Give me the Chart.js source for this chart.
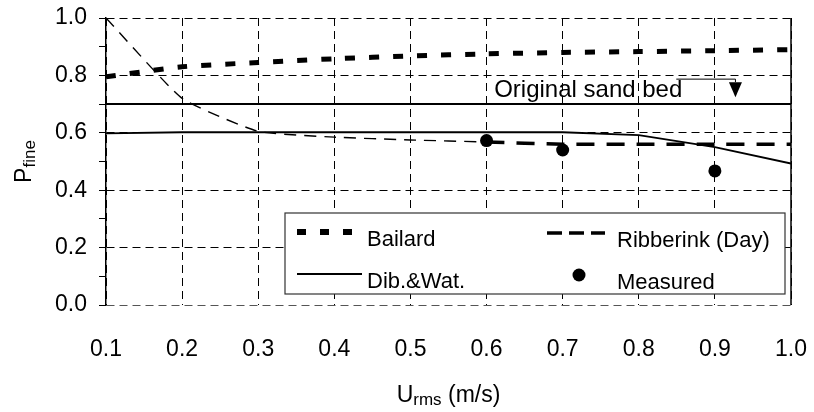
<!DOCTYPE html>
<html>
<head>
<meta charset="utf-8">
<script src="https://cdn.jsdelivr.net/npm/chart.js@4.4.0/dist/chart.umd.min.js"></script>
<style>
  html, body { margin: 0; padding: 0; background: #fff; }
  #wrap { width: 814px; height: 412px; }
</style>
</head>
<body>
<div id="wrap"><canvas id="pfine-chart" width="814" height="412"></canvas></div>
<script>
// values
const uRms = [0.1, 0.2, 0.3, 0.4, 0.5, 0.6, 0.7, 0.8, 0.9, 1.0];
const bailard = [0.795, 0.83, 0.845, 0.858, 0.868, 0.875, 0.88, 0.883, 0.886, 0.89];
const ribberink = [1.0, 0.72, 0.605, 0.585, 0.575, 0.568, 0.56, 0.56, 0.56, 0.56];
const dibWat = [0.598, 0.602, 0.602, 0.602, 0.602, 0.602, 0.602, 0.592, 0.55, 0.493];
const measuredU = [0.6, 0.7, 0.9];
const measuredP = [0.573, 0.54, 0.467];
const sandBedU = [0.1, 1.0];
const sandBedP = [0.7, 0.7];

const xTickValues = [0.1, 0.2, 0.3, 0.4, 0.5, 0.6, 0.7, 0.8, 0.9, 1.0];
const yTickValues = [0.0, 0.1, 0.2, 0.3, 0.4, 0.5, 0.6, 0.7, 0.8, 0.9, 1.0];
const yLabelled = [0.0, 0.2, 0.4, 0.6, 0.8, 1.0];

const FONT = '"Liberation Sans", Arial, sans-serif';

function toPoints(xs, ys) {
    return xs.map((x, i) => ({ x: x, y: ys[i] }));
}

const overlayPlugin = {
    id: 'overlay',
    afterDraw(chart) {
        const { ctx, chartArea: a, scales } = chart;
        const xs = scales.x, ys = scales.y;
        ctx.save();
        ctx.setLineDash([]);

        // right frame line
        ctx.strokeStyle = '#000';
        ctx.lineWidth = 1.5;
        ctx.beginPath();
        ctx.moveTo(a.right, a.top);
        ctx.lineTo(a.right, a.bottom);
        ctx.stroke();

        // "Original sand bed" label with arrow
        ctx.fillStyle = '#000';
        ctx.font = '24px ' + FONT;
        ctx.textBaseline = 'alphabetic';
        ctx.textAlign = 'left';
        const tx = xs.getPixelForValue(0.61);
        ctx.fillText('Original sand bed', tx, ys.getPixelForValue(0.725));
        const lineStart = tx + ctx.measureText('Original sand bed').width - 6;
        const ax = xs.getPixelForValue(0.927);
        const ly = ys.getPixelForValue(0.787);
        ctx.lineWidth = 1;
        ctx.beginPath();
        ctx.moveTo(lineStart, ly);
        ctx.lineTo(ax, ly);
        ctx.lineTo(ax, ly + 3);
        ctx.stroke();
        ctx.beginPath();
        ctx.moveTo(ax - 6.5, ly + 3);
        ctx.lineTo(ax + 6.5, ly + 3);
        ctx.lineTo(ax, ly + 18);
        ctx.closePath();
        ctx.fill();

        // legend box
        const lx = a.left + 179, lr = a.right - 6;
        const ly0 = a.top + 195, lb = a.bottom - 11;
        ctx.fillStyle = '#fff';
        ctx.fillRect(lx, ly0, lr - lx, lb - ly0);
        ctx.strokeStyle = '#333';
        ctx.lineWidth = 1.2;
        ctx.strokeRect(lx, ly0, lr - lx, lb - ly0);

        const entries = [
            { text: 'Bailard', x: lx + 12, y: ly0 + 19, len: 56, dash: [9, 14], width: 6 },
            { text: 'Ribberink (Day)', x: lx + 262, y: ly0 + 20, len: 58, dash: [15, 7], width: 3.5 },
            { text: 'Dib.&Wat.', x: lx + 12, y: ly0 + 61, len: 65, dash: [], width: 2 },
            { text: 'Measured', x: lx + 262, y: ly0 + 62, dot: true }
        ];
        ctx.font = '22px ' + FONT;
        entries.forEach(e => {
            ctx.strokeStyle = '#000';
            ctx.fillStyle = '#000';
            if (e.dot) {
                ctx.beginPath();
                ctx.arc(e.x + 32, e.y, 6.5, 0, Math.PI * 2);
                ctx.fill();
            } else {
                ctx.setLineDash(e.dash);
                ctx.lineWidth = e.width;
                ctx.beginPath();
                ctx.moveTo(e.x, e.y);
                ctx.lineTo(e.x + e.len, e.y);
                ctx.stroke();
                ctx.setLineDash([]);
            }
            ctx.fillText(e.text, e.x + 70, e.y + 14);
        });

        // x axis title: U_rms (m/s)
        ctx.fillStyle = '#000';
        const big = '23px ' + FONT, small = '17px ' + FONT;
        ctx.font = big;
        const wU = ctx.measureText('U').width;
        const wTail = ctx.measureText(' (m/s)').width;
        ctx.font = small;
        const wSub = ctx.measureText('rms').width;
        const x0 = (a.left + a.right) / 2 - (wU + wSub + wTail) / 2;
        const bY = 402;
        ctx.font = big;
        ctx.fillText('U', x0, bY);
        ctx.font = small;
        ctx.fillText('rms', x0 + wU, bY + 3);
        ctx.font = big;
        ctx.fillText(' (m/s)', x0 + wU + wSub, bY);

        // y axis title: P_fine
        ctx.save();
        ctx.translate(31, (a.top + a.bottom) / 2);
        ctx.rotate(-Math.PI / 2);
        ctx.font = big;
        const wP = ctx.measureText('P').width;
        ctx.font = small;
        const wFine = ctx.measureText('fine').width;
        const s0 = -(wP + wFine) / 2;
        ctx.font = big;
        ctx.fillText('P', s0, 0);
        ctx.font = small;
        ctx.fillText('fine', s0 + wP, 4);
        ctx.restore();

        ctx.restore();
    }
};

const chartEl = document.getElementById('pfine-chart');

new Chart(chartEl, {
    type: 'line',
    data: {
        datasets: [
            {
                label: 'Measured',
                data: toPoints(measuredU, measuredP),
                showLine: false,
                pointRadius: 6.5,
                pointBackgroundColor: '#000',
                pointBorderColor: '#000',
                pointBorderWidth: 0
            },
            {
                label: 'Bailard',
                data: toPoints(uRms, bailard),
                borderColor: '#000',
                borderWidth: 5,
                borderDash: [10, 14],
                pointRadius: 0,
                tension: 0.2
            },
            {
                label: 'Ribberink (Day)',
                data: toPoints(uRms, ribberink),
                borderColor: '#000',
                borderWidth: 1.4,
                pointRadius: 0,
                tension: 0.15,
                segment: {
                    borderWidth: c => c.p0.parsed.x >= 0.6 ? 3.5 : 1.4,
                    borderDash: c => c.p0.parsed.x >= 0.6 ? [18, 12] : [12, 8]
                }
            },
            {
                label: 'Dib.&Wat.',
                data: toPoints(uRms, dibWat),
                borderColor: '#000',
                borderWidth: 1.8,
                pointRadius: 0,
                tension: 0
            },
            {
                label: 'Original sand bed',
                data: toPoints(sandBedU, sandBedP),
                borderColor: '#000',
                borderWidth: 2,
                pointRadius: 0
            }
        ]
    },
    options: {
        responsive: false,
        animation: false,
        layout: { padding: { top: 18, right: 23, left: 0, bottom: 0 } },
        plugins: {
            legend: { display: false },
            tooltip: { enabled: false }
        },
        scales: {
            x: {
                type: 'linear',
                min: 0.1,
                max: 1.0,
                afterBuildTicks: s => { s.ticks = xTickValues.map(v => ({ value: v })); },
                afterFit: s => {
                    s.height = 107;
                    s.paddingLeft = 0;
                    s.paddingRight = 0;
                },
                grid: { color: '#000', lineWidth: 1, drawTicks: false, tickLength: 0 },
                border: { display: false, dash: [8, 5] },
                ticks: {
                    color: '#000',
                    font: { family: FONT, size: 23 },
                    padding: 31,
                    maxRotation: 0,
                    autoSkip: false,
                    callback: v => v.toFixed(1)
                }
            },
            y: {
                type: 'linear',
                min: 0,
                max: 1,
                afterBuildTicks: s => { s.ticks = yTickValues.map(v => ({ value: v })); },
                afterFit: s => {
                    s.width = 106;
                    s.paddingTop = 0;
                    s.paddingBottom = 0;
                },
                grid: {
                    color: c => (c.tick && yLabelled.includes(c.tick.value)) ? (c.tick.value === 0 ? '#555' : '#000') : 'rgba(0,0,0,0)',
                    lineWidth: 1,
                    drawTicks: true,
                    tickLength: 7,
                    tickColor: '#000',
                    tickWidth: 1
                },
                border: { display: true, color: '#000', width: 1.5, dash: [8, 5] },
                ticks: {
                    color: '#000',
                    font: { family: FONT, size: 23 },
                    padding: 12,
                    autoSkip: false,
                    callback: v => yLabelled.includes(v) ? v.toFixed(1) : ''
                }
            }
        }
    },
    plugins: [overlayPlugin]
});
</script>
</body>
</html>
